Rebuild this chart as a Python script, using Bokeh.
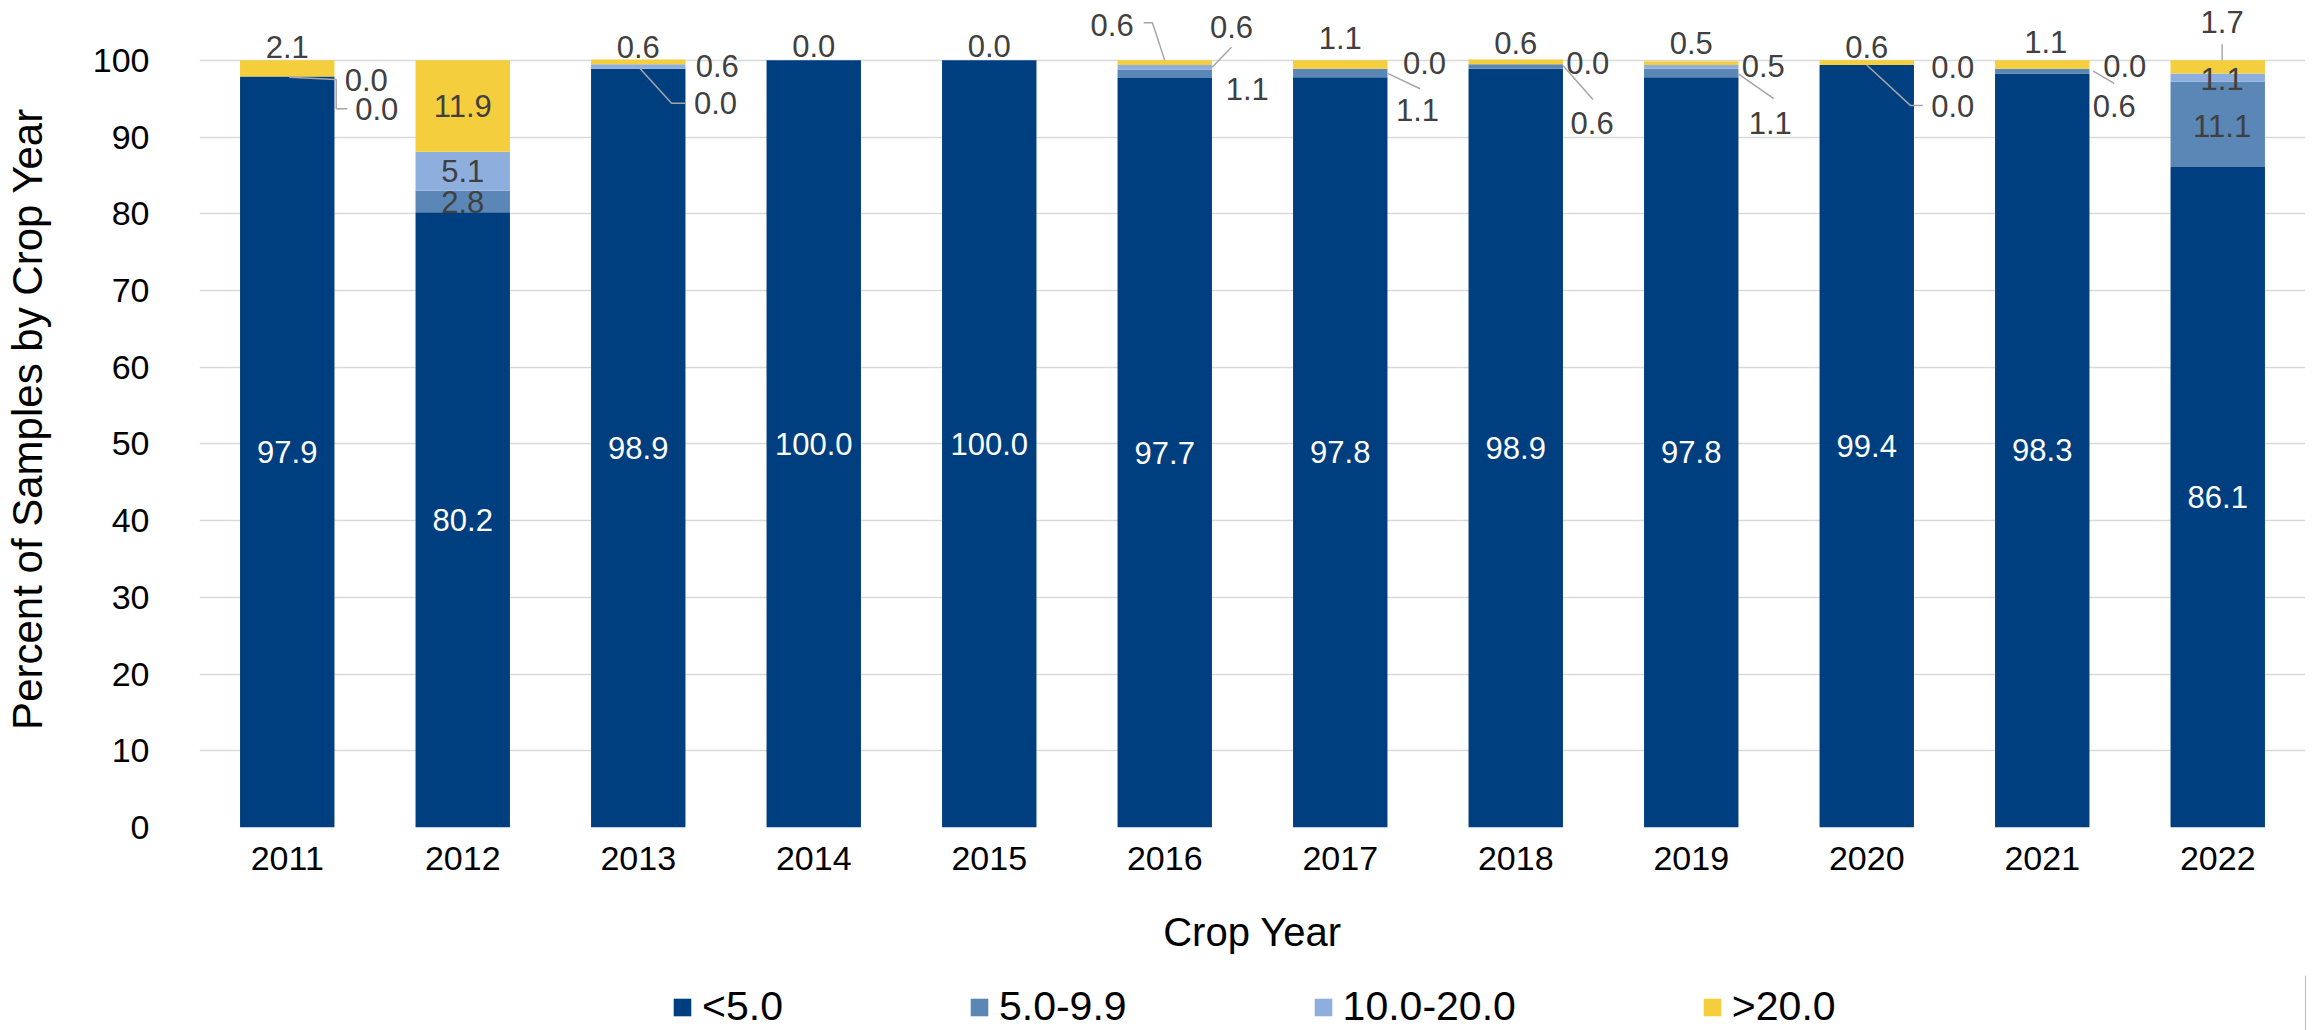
from bokeh.plotting import figure
from bokeh.models import ColumnDataSource, Range1d, FixedTicker, Legend, LegendItem
from bokeh.layouts import column
from bokeh.core.properties import value
from bokeh.embed import file_html
from bokeh.resources import INLINE

# ---------------- data ----------------
years = ["2011", "2012", "2013", "2014", "2015", "2016",
         "2017", "2018", "2019", "2020", "2021", "2022"]
series_names = ["<5.0", "5.0-9.9", "10.0-20.0", ">20.0"]
lt5 = [97.9, 80.2, 98.9, 100.0, 100.0, 97.7, 97.8, 98.9, 97.8, 99.4, 98.3, 86.1]
s5_9 = [0.0, 2.8, 0.0, 0.0, 0.0, 1.1, 1.1, 0.6, 1.1, 0.0, 0.6, 11.1]
s10_20 = [0.0, 5.1, 0.6, 0.0, 0.0, 0.6, 0.0, 0.0, 0.5, 0.0, 0.0, 1.1]
gt20 = [2.1, 11.9, 0.6, 0.0, 0.0, 0.6, 1.1, 0.6, 0.5, 0.6, 1.1, 1.7]
y_ticks = [0, 10, 20, 30, 40, 50, 60, 70, 80, 90, 100]

# ---------------- style ----------------
colors = ["#003F7F", "#5A87B5", "#8EAEDE", "#F5CE3D"]
FONT = "Liberation Sans"
LABEL_GRAY = "#404040"
LEADER = "#A6A6A6"

# label placement (style): (year index, series index, dx [band units], dy [data units from segment middle])
# series 0 is always labelled inside in white; these are the other labels
placements = [
    (0, 3, 0.0, 2.75), (0, 2, 0.45, -0.5), (0, 1, 0.51, -4.2),
    (1, 1, 0.0, 0.0), (1, 2, 0.0, 0.0), (1, 3, 0.0, 0.0),
    (2, 3, 0.0, 1.9), (2, 2, 0.45, 0.1), (2, 1, 0.44, -4.5),
    (3, 3, 0.0, 1.9),
    (4, 3, 0.0, 1.9),
    (5, 3, -0.30, 4.9), (5, 2, 0.38, 5.2), (5, 1, 0.47, -1.95),
    (6, 3, 0.0, 3.45), (6, 2, 0.48, 0.7), (6, 1, 0.44, -4.85),
    (7, 3, 0.0, 2.4), (7, 2, 0.41, 0.1), (7, 1, 0.435, -7.4),
    (8, 3, 0.0, 2.55), (8, 2, 0.41, 0.15), (8, 1, 0.45, -6.45),
    (9, 3, 0.0, 2.0), (9, 2, 0.49, -0.2), (9, 1, 0.49, -5.4),
    (10, 3, 0.02, 2.95), (10, 2, 0.47, 0.4), (10, 1, 0.41, -4.6),
    (11, 3, 0.025, 5.85), (11, 2, 0.025, -0.15), (11, 1, 0.025, -0.15),
]
# leader lines (style): (year index, series index, [(dx, dy) ...] relative to segment middle)
leaders = [
    (0, 1, [(0.011, -0.1), (0.279, -0.4), (0.279, -4.2), (0.342, -4.2)]),
    (2, 1, [(0.011, 0.0), (0.19, -4.5), (0.27, -4.5)]),
    (5, 3, [(-0.12, 5.2), (-0.07, 5.2), (0.0, 0.3)]),
    (5, 2, [(0.38, 2.6), (0.27, 0.0)]),
    (6, 1, [(0.27, -0.05), (0.455, -2.05)]),
    (7, 1, [(0.27, 0.1), (0.44, -4.3)]),
    (8, 1, [(0.27, -0.15), (0.47, -3.35)]),
    (9, 1, [(0.0, 0.0), (0.25, -5.3), (0.32, -5.3)]),
    (10, 1, [(0.29, 0.0), (0.41, -1.6)]),
    (11, 3, [(0.025, 2.95), (0.025, 0.85)]),
]

# ---------------- derived ----------------
series = [lt5, s5_9, s10_20, gt20]
xs = list(range(len(years)))
keys = ["lt5", "s5_9", "s10_20", "gt20"]
source = ColumnDataSource(dict(x=xs, lt5=lt5, s5_9=s5_9, s10_20=s10_20, gt20=gt20))

def seg_mid(i, s):
    below = sum(series[k][i] for k in range(s))
    return below + series[s][i] / 2.0

W = 2315
H_MAIN = 975
H_LEG = 55

p = figure(width=W, height=H_MAIN, output_backend="svg", toolbar_location=None,
           x_range=Range1d(-0.5, len(years) - 0.5), y_range=Range1d(0, 106.5),
           min_border_left=197, min_border_right=10, min_border_top=10, min_border_bottom=148)
p.outline_line_color = None
p.background_fill_color = "white"
p.border_fill_color = "white"

p.vbar_stack(keys, x="x", width=0.538, color=colors, line_color=None, source=source)

# inside white labels for <5.0
in_y = [seg_mid(i, 0) for i in xs]
in_t = ["%.1f" % v for v in lt5]
p.text(x=xs, y=in_y, text=in_t, text_color="white", text_font=value(FONT),
       text_font_size="31px", text_align="center", text_baseline="middle")

# other labels
ox, oy, ot = [], [], []
for (i, s, dx, dy) in placements:
    ox.append(i + dx)
    oy.append(seg_mid(i, s) + dy)
    ot.append("%.1f" % series[s][i])
p.text(x=ox, y=oy, text=ot, text_color=LABEL_GRAY, text_font=value(FONT),
       text_font_size="31px", text_align="center", text_baseline="middle")

# leader lines
lxs, lys = [], []
for (i, s, pts) in leaders:
    m = seg_mid(i, s)
    lxs.append([i + dx for dx, dy in pts])
    lys.append([m + dy for dx, dy in pts])
p.multi_line(xs=lxs, ys=lys, line_color=LEADER, line_width=1.5)

# axes
p.xaxis.ticker = FixedTicker(ticks=xs)
p.xaxis.major_label_overrides = {i: y for i, y in zip(xs, years)}
p.yaxis.ticker = FixedTicker(ticks=y_ticks)
for ax in (p.xaxis[0], p.yaxis[0]):
    ax.axis_line_color = None
    ax.major_tick_line_color = None
    ax.minor_tick_line_color = None
    ax.major_label_text_font = FONT
    ax.major_label_text_font_size = "34px"
    ax.major_label_text_color = "black"
    ax.axis_label_text_font = FONT
    ax.axis_label_text_font_style = "normal"
    ax.axis_label_text_color = "black"
p.xaxis.axis_label = "Crop Year"
p.xaxis.axis_label_text_font_size = "40px"
p.xaxis.major_label_standoff = 13
p.xaxis.axis_label_standoff = 37
p.yaxis.axis_label = "Percent of Samples by Crop Year"
p.yaxis.axis_label_text_font_size = "42px"
p.yaxis.major_label_standoff = 44
p.yaxis.axis_label_standoff = 39

p.xgrid.grid_line_color = None
p.ygrid.grid_line_color = "#D9D9D9"
p.ygrid.grid_line_width = 1.5

# legend strip (separate figure placed under the chart; frames are aligned by the column)
pl = figure(width=W, height=H_LEG, output_backend="svg", toolbar_location=None,
            x_range=Range1d(0, 1), y_range=Range1d(0, 1),
            x_axis_location=None, y_axis_location=None,
            min_border_left=0, min_border_right=0, min_border_top=0, min_border_bottom=0)
pl.outline_line_color = None
pl.xgrid.grid_line_color = None
pl.ygrid.grid_line_color = None
items = []
for name, c in zip(series_names, colors):
    # placeholder bar outside the visible range, used only for its legend swatch
    r = pl.vbar(x=[5], top=[1], width=0.5, color=c, line_color=None)
    items.append(LegendItem(label=name, renderers=[r]))
lg = Legend(items=items, orientation="horizontal", location=(472, 0),
            border_line_color=None, background_fill_alpha=0, padding=0, margin=0,
            spacing=185, label_standoff=9, glyph_width=22, glyph_height=22,
            label_text_font=FONT, label_text_font_size="41px", label_text_color="black")
pl.add_layout(lg, "center")

layout = column(p, pl, spacing=0)
open("out.html", "w").write(file_html(layout, INLINE))
